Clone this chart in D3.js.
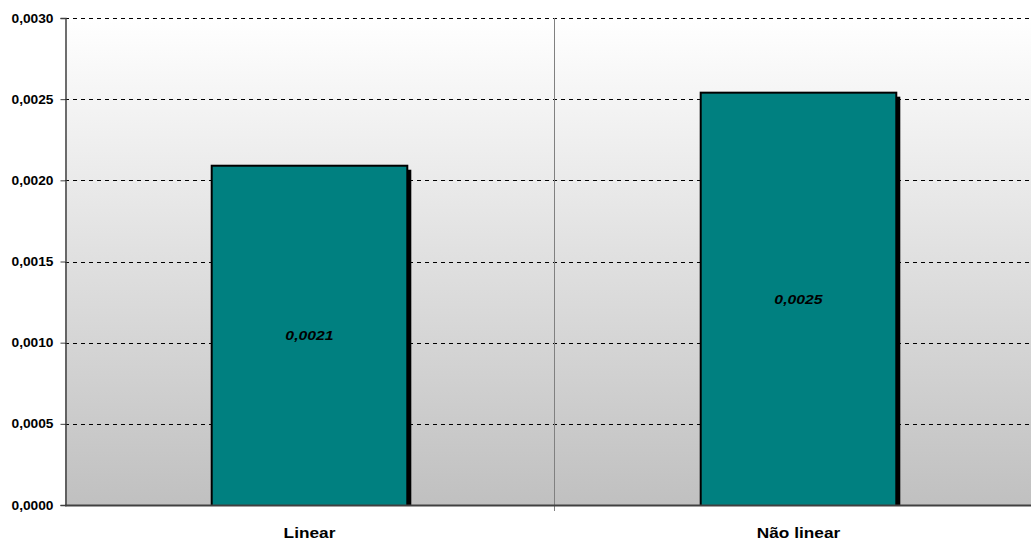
<!DOCTYPE html>
<html>
<head>
<meta charset="utf-8">
<script src="https://cdn.jsdelivr.net/npm/d3@7"></script>
<style>
  body { margin: 0; background: #fff; }
  svg { display: block; font-family: "Liberation Sans", Arial, sans-serif; }
</style>
</head>
<body>
<div id="chart"></div>
<script>
const categories = ["Linear", "Não linear"];
const values = [0.00209, 0.00254];
const valueLabels = ["0,0021", "0,0025"];
const yTicks = [0, 0.0005, 0.001, 0.0015, 0.002, 0.0025, 0.003];

const W = 1031, H = 542;
const MARGIN = { LEFT: 65, RIGHT: -12, TOP: 18, BOTTOM: 37 };
const innerW = W - MARGIN.LEFT - MARGIN.RIGHT;
const innerH = H - MARGIN.TOP - MARGIN.BOTTOM;
// text in the reference is a bit stretched sideways
const SX_TICK = 1.1, SX_VAL = 1.17, SX_CAT = 1.15;

const svg = d3.select("#chart").append("svg")
    .attr("width", W)
    .attr("height", H);

const defs = svg.append("defs");
const grad = defs.append("linearGradient")
    .attr("id", "bg").attr("x1", 0).attr("y1", 0).attr("x2", 0).attr("y2", 1);
grad.append("stop").attr("offset", "0%").attr("stop-color", "#ffffff");
grad.append("stop").attr("offset", "100%").attr("stop-color", "#c0c0c0");
defs.append("clipPath").attr("id", "plotclip")
    .append("rect").attr("width", innerW).attr("height", innerH);

const g = svg.append("g")
    .attr("transform", `translate(${MARGIN.LEFT}, ${MARGIN.TOP})`);

const x = d3.scaleBand()
    .domain(categories)
    .range([0, innerW])
    .paddingInner(0.6)
    .paddingOuter(0.3);

const y = d3.scaleLinear()
    .domain([0, 0.003])
    .range([innerH, 0]);

// plot background
g.append("rect")
    .attr("width", innerW).attr("height", innerH)
    .attr("fill", "url(#bg)");

// horizontal dashed gridlines
g.selectAll(".grid")
    .data(yTicks.filter(d => d > 0))
    .enter().append("line")
    .attr("x1", 0).attr("x2", innerW)
    .attr("y1", d => Math.round(y(d)) + 0.5).attr("y2", d => Math.round(y(d)) + 0.5)
    .attr("stroke", "#000")
    .attr("stroke-width", 1)
    .attr("stroke-dasharray", "4,4");

// category separator
const sepX = Math.round(x.step()) + 0.5;
g.append("line")
    .attr("x1", sepX).attr("x2", sepX)
    .attr("y1", 0).attr("y2", innerH + 6)
    .attr("stroke", "#808080").attr("stroke-width", 1);

// bars with shadow
const bars = g.append("g").attr("clip-path", "url(#plotclip)")
    .selectAll(".bar").data(categories).enter().append("g");
bars.append("rect")
    .attr("x", d => x(d) + 4)
    .attr("y", (d, i) => y(values[i]) + 4)
    .attr("width", x.bandwidth())
    .attr("height", (d, i) => innerH - y(values[i]))
    .attr("fill", "#000");
bars.append("rect")
    .attr("x", d => x(d))
    .attr("y", (d, i) => y(values[i]))
    .attr("width", x.bandwidth())
    .attr("height", (d, i) => innerH - y(values[i]) + 2)
    .attr("fill", "#008080")
    .attr("stroke", "#000")
    .attr("stroke-width", 2);

g.selectAll(".vlabel").data(categories).enter().append("text")
    .attr("transform", (d, i) => `translate(${x(d) + x.bandwidth() / 2}, ${(y(values[i]) + innerH) / 2}) scale(${SX_VAL},1)`)
    .attr("dy", "0.35em")
    .attr("text-anchor", "middle")
    .attr("font-size", 13.5)
    .attr("font-weight", "bold")
    .attr("font-style", "italic")
    .attr("fill", "#000")
    .text((d, i) => valueLabels[i]);

// y axis
const yAxis = d3.axisLeft(y)
    .tickValues(yTicks)
    .tickSize(5)
    .tickFormat(d => d3.format(".4f")(d).replace(".", ","));
const ya = g.append("g").attr("transform", "translate(0.5,0)").call(yAxis);
ya.select(".domain").attr("stroke", "#404040").attr("stroke-width", 1.5);
ya.selectAll(".tick line").attr("stroke", "#404040");
ya.selectAll("text")
    .attr("font-size", 12.5).attr("font-weight", "bold")
    .attr("font-family", "Liberation Sans, Arial, sans-serif")
    .attr("fill", "#000")
    .attr("x", -12 / SX_TICK)
    .attr("transform", `scale(${SX_TICK},1)`);

// x axis baseline
g.append("line")
    .attr("x1", 0).attr("x2", innerW)
    .attr("y1", innerH + 0.5).attr("y2", innerH + 0.5)
    .attr("stroke", "#404040").attr("stroke-width", 2);

// category labels
g.selectAll(".cat").data(categories).enter().append("text")
    .attr("transform", d => `translate(${x(d) + x.bandwidth() / 2}, ${innerH + 33}) scale(${SX_CAT},1)`)
    .attr("text-anchor", "middle")
    .attr("font-size", 15)
    .attr("font-weight", "bold")
    .attr("fill", "#000")
    .text(d => d);
</script>
</body>
</html>
